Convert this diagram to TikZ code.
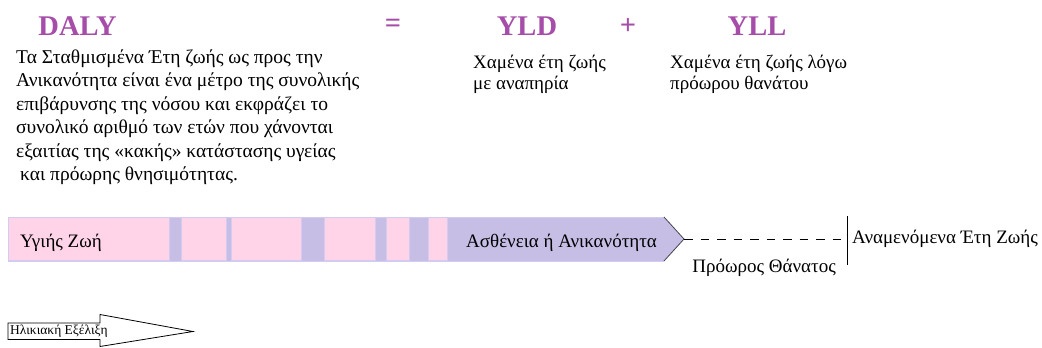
\documentclass[tikz,border=0pt]{standalone}
\usepackage{fontspec}
\setmainfont{Liberation Serif}
\definecolor{ttl}{RGB}{166,77,170}
\definecolor{pinkf}{RGB}{255,211,232}
\definecolor{lavf}{RGB}{198,190,229}
\definecolor{lavb}{RGB}{212,204,240}
\definecolor{headb}{RGB}{70,70,80}
\tikzset{
  title/.style={font=\fontsize{28.5}{30}\bfseries\selectfont, text=ttl, inner sep=0pt},
  body/.style={font=\fontsize{19.5}{23.4}\selectfont, inner sep=0pt, align=left},
  lbl/.style={font=\fontsize{19}{21}\selectfont, inner sep=0pt},
  pinkseg/.style={fill=pinkf, draw=lavb, line width=0.8pt},
}
\begin{document}
\begin{tikzpicture}[x=1pt,y=-1pt]
\useasboundingbox (0,0) rectangle (1042,348);
% titles
\node[title] (daly) at (77.5,26) {DALY};
\node[title] (eq) at (393,26) {=};
\node[title] (yld) at (527,26) {YLD};
\node[title] (plus) at (628,26) {+};
\node[title] (yll) at (757,26) {YLL};
% descriptions
\node[body, anchor=north west] (desc) at (16,49.5) {Τα Σταθμισμένα Έτη ζωής ως προς την\\Ανικανότητα είναι ένα μέτρο της συνολικής\\επιβάρυνσης της νόσου και εκφράζει το\\συνολικό αριθμό των ετών που χάνονται\\εξαιτίας της «κακής» κατάστασης υγείας\\\hspace*{4pt}και πρόωρης θνησιμότητας.};
\node[body, anchor=north west, font=\fontsize{19}{21.7}\selectfont] (ylddesc) at (473,54.5) {Χαμένα έτη ζωής\\με αναπηρία};
\node[body, anchor=north west, font=\fontsize{19}{21.7}\selectfont] (ylldesc) at (670,54.5) {Χαμένα έτη ζωής λόγω\\πρόωρου θανάτου};
% life bar
\fill[lavf] (8,217) -- (664,217) -- (684,239) -- (664,261) -- (8,261) -- cycle;
\draw[lavb, line width=0.8pt] (664,217) -- (8,217) -- (8,261) -- (664,261);
\draw[headb, line width=0.8pt] (664,217) -- (684,239) -- (664,261);
\foreach \a/\b in {8/169,181/226,231/301,324/375,386/409,428/447}
  \draw[pinkseg] (\a,217.5) rectangle (\b,260.5);
\coordinate (tip) at (684,239);
\coordinate (mark) at (847,239);
\coordinate (marktop) at (847,216);
\coordinate (markbot) at (847,265);
\draw[black, line width=0.8pt, dash pattern=on 8.5pt off 8pt] (tip) -- (mark);
\draw[black, line width=0.8pt] (marktop) -- (markbot);
\node[lbl, anchor=west] (healthy) at (20,243) {Υγιής Ζωή};
\node[lbl, anchor=west] (ill) at (466,243) {Ασθένεια ή Ανικανότητα};
\node[lbl, anchor=east] (death) at (836,268) {Πρόωρος Θάνατος};
\node[lbl, anchor=west] (expect) at (852,239) {Αναμενόμενα Έτη Ζωής};
% age arrow
\draw[black, line width=0.8pt, fill=white] (8,323) -- (100,323) -- (100,314.5) -- (193,331.5) -- (100,346.5) -- (100,339.5) -- (8,339.5) -- cycle;
\node[font=\fontsize{13.5}{14}\selectfont, inner sep=0pt, anchor=west] (age) at (10,331) {Ηλικιακή Εξέλιξη};
\end{tikzpicture}
\end{document}
